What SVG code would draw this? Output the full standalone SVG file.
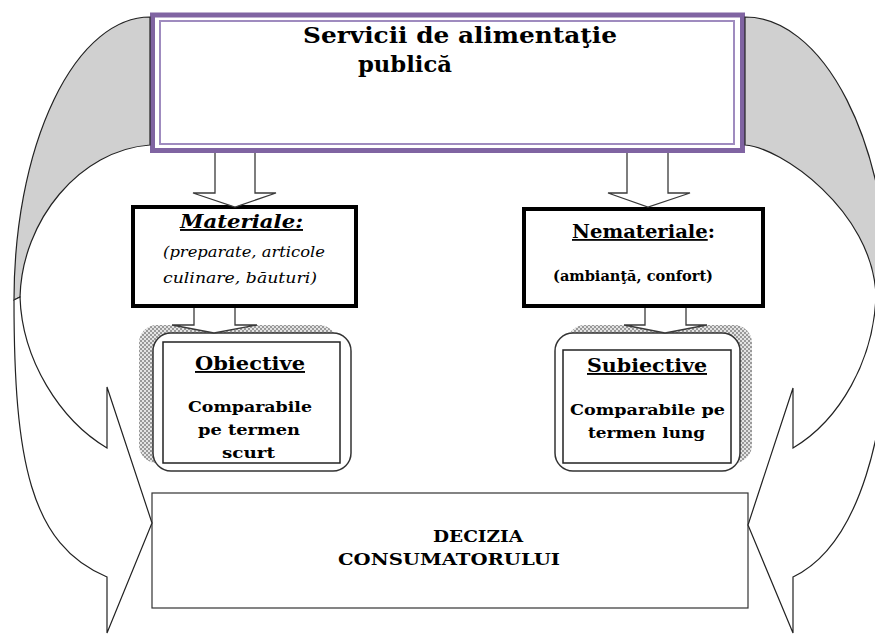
<svg xmlns="http://www.w3.org/2000/svg" width="875" height="636" viewBox="0 0 875 636">
<style>
.t{font-family:"DejaVu Serif","Liberation Serif",serif;fill:#000}
.b{font-weight:bold}
.i{font-style:italic}
.u{text-decoration:underline}
.arr{fill:#fff;stroke:#3a3a3a;stroke-width:1.3}
.back{fill:#d0d0d0;stroke:#222;stroke-width:1.2}
.front{fill:#fff;stroke:#222;stroke-width:1.2}
.rr{fill:#fff;stroke:#333;stroke-width:1.5}
.inner{fill:#fff;stroke:#222;stroke-width:1.5}
.thick{fill:#fff;stroke:#000;stroke-width:4}
.shadow{fill:url(#chk)}
</style>
<defs>
<pattern id="chk" width="4" height="4" patternUnits="userSpaceOnUse">
<rect width="4" height="4" fill="#e4e4e4"/>
<rect width="2" height="2" fill="#999"/>
<rect x="2" y="2" width="2" height="2" fill="#999"/>
</pattern>
</defs>

<g id="servicii">
<rect x="152.5" y="15" width="590" height="135.5" fill="#fff" stroke="#8064A2" stroke-width="5"/>
<rect x="160" y="21" width="574" height="123" fill="none" stroke="#9f8bbf" stroke-width="2"/>
<text class="t b" x="303" y="43" font-size="22" textLength="314" lengthAdjust="spacingAndGlyphs">Servicii de alimentaţie</text>
<text class="t b" x="358" y="72" font-size="22" textLength="94" lengthAdjust="spacingAndGlyphs">publică</text>
</g>

<g id="materiale">
<rect class="thick" x="133" y="207" width="223" height="99"/>
<text class="t b i u" x="180" y="228" font-size="19" textLength="123" lengthAdjust="spacingAndGlyphs">Materiale:</text>
<text class="t i" x="163" y="257" font-size="15" textLength="162" lengthAdjust="spacingAndGlyphs">(preparate, articole</text>
<text class="t i" x="163" y="283" font-size="15" textLength="154" lengthAdjust="spacingAndGlyphs">culinare, băuturi)</text>
</g>

<g id="nemateriale">
<rect class="thick" x="524" y="209" width="239" height="97"/>
<text class="t b" x="572" y="238" font-size="18" textLength="143" lengthAdjust="spacingAndGlyphs"><tspan class="u">Nemateriale</tspan>:</text>
<text class="t b" x="553" y="281" font-size="14" textLength="160" lengthAdjust="spacingAndGlyphs">(ambianţă, confort)</text>
</g>

<g id="obiective">
<rect class="shadow" x="139" y="325" width="198" height="138" rx="18"/>
<rect class="rr" x="153" y="333" width="198" height="138" rx="18"/>
<rect class="inner" x="163" y="342" width="177" height="121"/>
<text class="t b u" x="195" y="370" font-size="19" textLength="110" lengthAdjust="spacingAndGlyphs">Obiective</text>
<text class="t b" x="188" y="412" font-size="15" textLength="124" lengthAdjust="spacingAndGlyphs">Comparabile</text>
<text class="t b" x="198" y="435" font-size="15" textLength="102" lengthAdjust="spacingAndGlyphs">pe termen</text>
<text class="t b" x="222" y="458" font-size="15" textLength="53" lengthAdjust="spacingAndGlyphs">scurt</text>
</g>

<g id="subiective">
<rect class="shadow" x="567" y="325" width="185" height="138" rx="18"/>
<rect class="rr" x="555" y="333" width="185" height="138" rx="18"/>
<rect class="inner" x="563" y="350" width="168" height="113"/>
<text class="t b u" x="587" y="372" font-size="19" textLength="120" lengthAdjust="spacingAndGlyphs">Subiective</text>
<text class="t b" x="570" y="415" font-size="15" textLength="155" lengthAdjust="spacingAndGlyphs">Comparabile pe</text>
<text class="t b" x="588" y="438" font-size="15" textLength="117" lengthAdjust="spacingAndGlyphs">termen lung</text>
</g>

<g id="decizia">
<rect x="152" y="493" width="596" height="115" fill="#fff" stroke="#333" stroke-width="1.2"/>
<text class="t b" x="433" y="542" font-size="16" textLength="90" lengthAdjust="spacingAndGlyphs">DECIZIA</text>
<text class="t b" x="338" y="565" font-size="16" textLength="222" lengthAdjust="spacingAndGlyphs">CONSUMATORULUI</text>
</g>

<g id="connectors">
<path class="arr" d="M215,153 V193 H193 L235,207 L276,193 H255 V153"/>
<path class="arr" d="M627,153 V193 H608 L648,207 L690,193 H668 V153"/>
<path class="arr" d="M194,308 V325 H172 L214,333 L257,325 H235 V308"/>
<path class="arr" d="M645,308 V325 H624 L665,333 L707,325 H686 V308"/>
<path class="back" d="M150,17 A136,283 0 0 0 14,300 L20,297 C22,220 80,150 150,145 Z"/>
<path class="front" d="M14,300 C14,460 30,545 107,577 L107,633 L152,523 L107,387 L107,448 C60,420 22,360 20,297 Z"/>
<path class="back" d="M745,17 A144,283 0 0 1 889,300 L876,295 C872,210 780,147 745,145 Z"/>
<path class="front" d="M889,300 C889,430 860,545 793,577 L793,633 L748,525 L793,388 L793,448 C840,420 874,360 876,295 Z"/>
</g>
</svg>
